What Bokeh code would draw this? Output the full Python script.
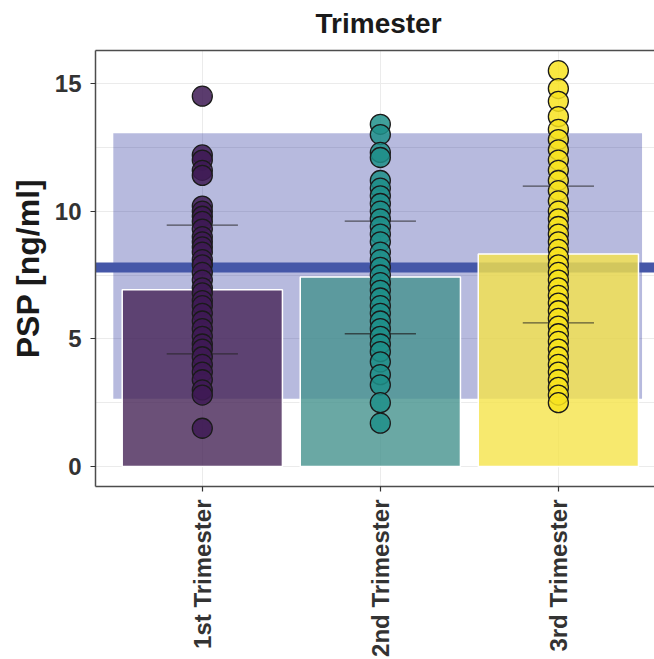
import math
from bokeh.plotting import figure
from bokeh.models import FixedTicker, LinearAxis, Title
from bokeh.embed import file_html
from bokeh.resources import INLINE

# ---- data ----
categories = ["1st Trimester", "2nd Trimester", "3rd Trimester"]
bar_means = [6.92, 7.42, 8.32]
err_low = [4.41, 5.20, 5.63]
err_high = [9.45, 9.61, 10.98]

g1 = [14.5, 12.2, 12.0, 11.6, 11.4, 10.2, 10.0, 9.8, 9.6, 9.3, 9.0, 8.8, 8.6,
      8.4, 8.1, 7.9, 7.6, 7.3, 7.0, 6.8, 6.5, 6.3, 6.0, 5.7, 5.4, 5.1, 4.8,
      4.6, 4.3, 4.0, 3.7, 3.4, 3.0, 2.8, 1.5]
g2 = [13.4, 13.0, 12.3, 12.1, 11.2, 10.9, 10.6, 10.3, 10.0, 9.7, 9.4, 9.1,
      8.8, 8.4, 8.1, 7.8, 7.5, 7.2, 6.9, 6.6, 6.3, 6.0, 5.7, 5.4, 5.1, 4.8,
      4.5, 4.1, 3.6, 3.2, 2.5, 1.7]
g3 = [15.5, 14.8, 14.3, 13.7, 13.2, 12.8, 12.4, 12.0, 11.6, 11.2, 10.8, 10.4,
      10.0, 9.7, 9.4, 9.1, 8.8, 8.5, 8.2, 7.9, 7.6, 7.3, 7.0, 6.7, 6.4, 6.1,
      5.8, 5.5, 5.2, 4.9, 4.6, 4.3, 4.0, 3.7, 3.4, 3.1, 2.8, 2.5]
groups = [g1, g2, g3]

ref_low, ref_high = 2.66, 13.05      # shaded reference band
ref_left, ref_right = 0.5, 3.47
ref_line = 7.81                      # reference line
y_ticks = [0, 5, 10, 15]
bar_colors = ["#462456", "#45928D", "#F5E34A"]
point_colors = ["#3E1A55", "#1F8F89", "#F8E31F"]

xs = list(range(1, len(categories) + 1))

FONT = "Liberation Sans"
DARK = "#333333"
GRID = "#EBEBEB"
FRAME = "#4D4D4D"

p = figure(width=654, height=659, x_range=(0.4, 3.54), y_range=(-0.78, 16.29),
           output_backend="svg", toolbar_location=None,
           min_border_left=95, min_border_right=0, min_border_bottom=171,
           min_border_top=0, background_fill_color="white",
           border_fill_color="white")
p.outline_line_color = None

# title
p.title = Title(text="Trimester", align="left", offset=220, standoff=10,
                text_font=FONT, text_font_size="28px", text_font_style="bold",
                text_color="#1a1a1a")

# grids
p.xgrid.ticker = FixedTicker(ticks=xs)
minor_y = [(a + b) / 2 for a, b in zip(y_ticks[:-1], y_ticks[1:])]
p.ygrid.ticker = FixedTicker(ticks=y_ticks, minor_ticks=minor_y)
for g in (p.xgrid, p.ygrid):
    g.grid_line_color = GRID
    g.grid_line_width = 1
p.ygrid.minor_grid_line_color = GRID
p.ygrid.minor_grid_line_width = 1

# axes
xax = p.below[0]
yax = p.left[0]
yax.ticker = FixedTicker(ticks=y_ticks)
xax.ticker = FixedTicker(ticks=xs)
xax.major_label_overrides = {x: c for x, c in zip(xs, categories)}
xax.major_label_orientation = math.pi / 2
yax.axis_label = "PSP [ng/ml]"
for ax in (xax, yax):
    ax.axis_line_color = FRAME
    ax.axis_line_width = 1.5
    ax.major_tick_line_color = DARK
    ax.major_tick_line_width = 1.2
    ax.major_tick_out = 5
    ax.major_tick_in = 0
    ax.minor_tick_line_color = None
    ax.major_label_text_font = FONT
    ax.major_label_text_font_size = "24px"
    ax.major_label_text_font_style = "bold"
    ax.major_label_text_color = DARK
xax.major_label_standoff = 8
yax.major_label_standoff = 9
yax.axis_label_text_font = FONT
yax.axis_label_text_font_size = "32px"
yax.axis_label_text_font_style = "bold"
yax.axis_label_text_color = "#1a1a1a"
yax.axis_label_standoff = 6

# top border as an empty axis; a blank axis label reserves a little space
top_axis = LinearAxis(ticker=FixedTicker(ticks=[]), major_label_text_font_size="0px",
                      major_tick_line_color=None, minor_tick_line_color=None,
                      major_label_standoff=0, axis_label=" ",
                      axis_label_text_font_size="2px", axis_label_standoff=2,
                      axis_line_color=FRAME, axis_line_width=1.5)
p.add_layout(top_axis, "above")

# reference band and line
p.quad(left=[ref_left], right=[ref_right], bottom=[ref_low], top=[ref_high],
       fill_color="#121991", fill_alpha=0.3, line_color=None)
p.hspan(y=[ref_line], line_color="#4557A8", line_width=10)

# bars
p.vbar(x=xs, top=bar_means, bottom=0, width=0.9, fill_color=bar_colors,
       fill_alpha=0.8, line_color="white", line_width=1.5)

# error bars
cap = 0.2
p.segment(x0=xs, y0=err_low, x1=xs, y1=err_high, line_color="#222222",
          line_alpha=0.7, line_width=1.3)
p.segment(x0=[x - cap for x in xs], y0=err_low, x1=[x + cap for x in xs],
          y1=err_low, line_color="#222222", line_alpha=0.7, line_width=1.3)
p.segment(x0=[x - cap for x in xs], y0=err_high, x1=[x + cap for x in xs],
          y1=err_high, line_color="#222222", line_alpha=0.7, line_width=1.3)

# points
for x, vals, col in zip(xs, groups, point_colors):
    p.scatter(x=[x] * len(vals), y=vals, size=20, fill_color=col,
              fill_alpha=0.85, line_color="#1a1a1a", line_width=1.3)

open("out.html", "w").write(file_html(p, INLINE))
